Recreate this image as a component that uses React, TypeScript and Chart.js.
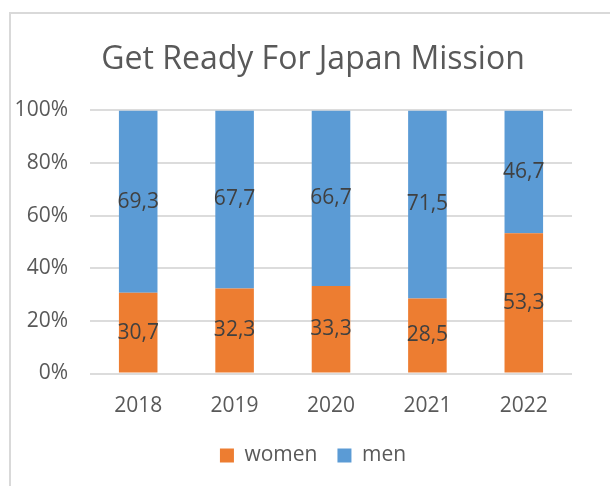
import React, { useEffect, useRef } from "react";
import { Chart, registerables } from "chart.js";

Chart.register(...registerables);

const categories = ["2018", "2019", "2020", "2021", "2022"];
const women = [30.7, 32.3, 33.3, 28.5, 53.3];
const men = [69.3, 67.7, 66.7, 71.5, 46.7];
const yTicks = [0, 20, 40, 60, 80, 100];

const FONT = "'Open Sans', sans-serif";

const valueLabels = {
  id: "valueLabels",
  afterDatasetsDraw(chart: any) {
    const ctx = chart.ctx;
    ctx.save();
    ctx.font = `21px ${FONT}`;
    ctx.fillStyle = "#404040";
    ctx.textAlign = "center";
    ctx.textBaseline = "middle";
    chart.data.datasets.forEach((ds: any, di: number) => {
      const meta = chart.getDatasetMeta(di);
      meta.data.forEach((el: any, i: number) => {
        const c = el.getCenterPoint();
        const v = ds.data[i] as number;
        ctx.fillText(v.toFixed(1).replace(".", ","), c.x, c.y);
      });
    });
    ctx.restore();
  },
};

// let the y tick labels use the space to the left of the axis box
const widenYLabels = {
  id: "widenYLabels",
  afterLayout(chart: any) {
    const y = chart.scales.y;
    if (y) y.left = 0;
  },
};

export default function App() {
  const ref = useRef<HTMLCanvasElement | null>(null);
  useEffect(() => {
    if (!ref.current) return;
    const chart = new Chart(ref.current, {
      type: "bar",
      data: {
        labels: categories,
        datasets: [
          { label: "women", data: women, backgroundColor: "#ED7D31", barPercentage: 0.4, categoryPercentage: 1 },
          { label: "men", data: men, backgroundColor: "#5B9BD5", barPercentage: 0.4, categoryPercentage: 1 },
        ],
      },
      options: {
        responsive: false,
        animation: false,
        layout: { padding: { left: 54, right: 38, top: 0, bottom: 10 } },
        plugins: {
          title: {
            display: true,
            text: "Get Ready For Japan Mission",
            color: "#595959",
            font: { family: FONT, size: 32, weight: "normal" },
            padding: { top: 41, bottom: 31 },
          },
          legend: {
            position: "bottom",
            labels: {
              color: "#595959",
              font: { family: FONT, size: 21 },
              boxWidth: 14,
              boxHeight: 14,
              padding: 20,
            },
          },
          tooltip: { enabled: false },
        },
        scales: {
          x: {
            stacked: true,
            grid: { display: false, drawTicks: false },
            border: { display: false },
            ticks: { color: "#595959", font: { family: FONT, size: 21 }, padding: 20 },
            afterFit: (s: any) => {
              s.height = 51.5;
            },
          },
          y: {
            stacked: true,
            min: 0,
            max: 100,
            afterBuildTicks: (s: any) => {
              s.ticks = yTicks.map((v) => ({ value: v }));
            },
            afterFit: (s: any) => {
              s.width = 36;
            },
            grid: { color: "#dcdcdc", lineWidth: 2, drawTicks: false },
            border: { display: false },
            ticks: {
              color: "#595959",
              font: { family: FONT, size: 21 },
              padding: 22,
              callback: (v: any) => v + "%",
            },
          },
        },
      },
      plugins: [valueLabels, widenYLabels],
    });
    return () => chart.destroy();
  }, []);
  return (
    <div style={{ position: "fixed", left: 0, top: 0, width: 610, height: 486, overflow: "hidden", background: "#fff" }}>
      <div
        style={{
          position: "absolute",
          left: 9,
          top: 12,
          width: 620,
          height: 500,
          borderTop: "2px solid #d9d9d9",
          borderLeft: "2px solid #d9d9d9",
        }}
      />
      <canvas ref={ref} width={610} height={486} style={{ position: "absolute", left: 0, top: 0 }} />
    </div>
  );
}
